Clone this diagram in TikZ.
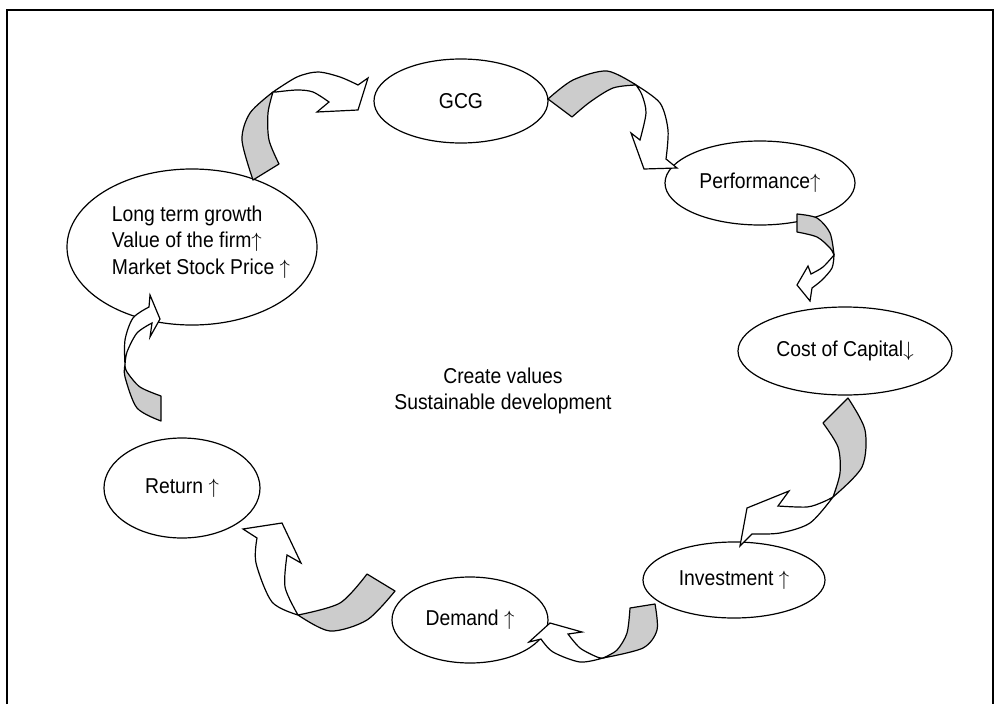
\documentclass[tikz,border=0pt]{standalone}
\usepackage{fontspec}
\setmainfont{Liberation Sans}[FakeStretch=0.9]
\usetikzlibrary{shapes.geometric}
\definecolor{agray}{RGB}{204,204,204}
\newcommand{\up}{$\uparrow$}
\newcommand{\dn}{$\downarrow$}
\begin{document}
\begin{tikzpicture}[x=1pt,y=-1pt,
  bubble/.style={draw, ellipse, line width=1.2pt, inner sep=0pt, align=center,
    font=\fontsize{21.5}{26.5}\selectfont},
  graypart/.style={fill=agray, draw, line width=1.2pt, line join=round},
  whitepart/.style={fill=white, draw, line width=1.2pt, line join=miter},
  lbl/.style={font=\fontsize{21.5}{26.5}\selectfont, align=center}]
\useasboundingbox (0,0) rectangle (1003,704);
\draw[line width=2pt] (7,704) -- (7,10) -- (993,10) -- (993,704);

% ellipses
\node[bubble, minimum width=174pt, minimum height=84pt] (gcg) at (461,101) {GCG};
\node[bubble, minimum width=190pt, minimum height=84pt] (perf) at (760,183) {Performance\up};
\node[bubble, minimum width=214pt, minimum height=88pt] (cost) at (845,351) {Cost of Capital\dn};
\node[bubble, minimum width=182pt, minimum height=76pt] (inv) at (734,580) {Investment \up};
\node[bubble, minimum width=156pt, minimum height=86pt] (dem) at (470,620) {Demand \up};
\node[bubble, minimum width=156pt, minimum height=100pt] (ret) at (182,488) {Return \up};
\node[bubble, minimum width=250pt, minimum height=156pt] (lt) at (192,247) {};
\node[lbl, align=left, anchor=center] (lttext) at (201,242) {Long term growth\\Value of the firm\up\\Market Stock Price \up};
\node[lbl] (center) at (503,391) {Create values\\Sustainable development};

% arrow 1: long term -> GCG
\filldraw[graypart] plot[smooth] coordinates {(253,180) (242,140) (250,113) (273,92)}
  -- plot[smooth] coordinates {(273,92) (268,113) (269,140) (279,164)} -- cycle;
\filldraw[whitepart] plot[smooth] coordinates {(273,92) (297,77) (318,72) (340,77) (358,85)}
  -- (368,78) -- (358,110) -- (317,112) -- (329,102)
  -- plot[smooth] coordinates {(329,102) (313,92) (297,90) (276,92)} -- cycle;

% arrow 2: GCG -> performance
\filldraw[graypart] plot[smooth] coordinates {(548,99) (573,80) (607,71) (636,85)}
  -- plot[smooth] coordinates {(636,85) (613,88) (590,102) (572,117)} -- cycle;
\filldraw[whitepart] plot[smooth] coordinates {(636,85) (660,103) (668,130) (666,159)}
  -- (677,168) -- (644,169) -- (631,133) -- (640,140)
  -- plot[smooth] coordinates {(640,140) (646,113) (642,95) (636,85)} -- cycle;

% arrow 3: performance -> cost of capital
\filldraw[graypart] plot[smooth] coordinates {(797,214) (817,218) (830,233) (834,255)}
  -- plot[smooth] coordinates {(834,255) (830,248) (817,237) (797,232)} -- cycle;
\filldraw[whitepart] plot[smooth] coordinates {(834,255) (832,268) (822,280) (812,288)}
  -- (810,301) -- (797,285) -- (808,266) -- (811,274)
  -- plot[smooth] coordinates {(811,274) (823,267) (834,255)} -- cycle;

% arrow 4: cost of capital -> investment
\filldraw[graypart] plot[smooth] coordinates {(848,398) (865,430) (862,467) (833,497)}
  -- plot[smooth] coordinates {(833,497) (840,473) (838,447) (823,423)} -- cycle;
\filldraw[whitepart] plot[smooth] coordinates {(833,497) (810,523) (780,533) (752,534)}
  -- (740,546) -- (747,508) -- (789,491) -- (778,506)
  -- plot[smooth] coordinates {(778,506) (807,507) (823,502) (833,497)} -- cycle;

% arrow 5: investment -> demand
\filldraw[graypart] plot[smooth] coordinates {(655,604) (657,630) (643,648) (603,658)}
  -- plot[smooth] coordinates {(603,658) (617,650) (627,633) (630,608)} -- cycle;
\filldraw[whitepart] plot[smooth] coordinates {(603,658) (580,662) (553,652) (541,639)}
  -- (529,642) -- (550,623) -- (582,632) -- (568,634)
  -- plot[smooth] coordinates {(568,634) (580,648) (597,657) (603,658)} -- cycle;

% arrow 6: demand -> return
\filldraw[graypart] plot[smooth] coordinates {(367,574) (340,603) (298,615)}
  -- plot[smooth] coordinates {(298,615) (330,631) (367,620) (395,591)} -- cycle;
\filldraw[whitepart] plot[smooth] coordinates {(298,615) (272,602) (256,563) (257,538)}
  -- (243,529) -- (282,523) -- (301,563) -- (287,555)
  -- plot[smooth] coordinates {(287,555) (285,587) (298,615)} -- cycle;

% arrow 7: return -> long term
\filldraw[graypart] plot[smooth] coordinates {(161,421) (137,408) (125,377) (125,365)}
  -- plot[smooth] coordinates {(125,365) (127,372) (140,387) (161,396)} -- cycle;
\filldraw[whitepart] plot[smooth] coordinates {(125,365) (125,340) (133,318) (149,307)}
  -- (150,295) -- (160,319) -- (150,337) -- (152,323)
  -- plot[smooth] coordinates {(152,323) (137,333) (127,352) (125,365)} -- cycle;
\end{tikzpicture}
\end{document}
